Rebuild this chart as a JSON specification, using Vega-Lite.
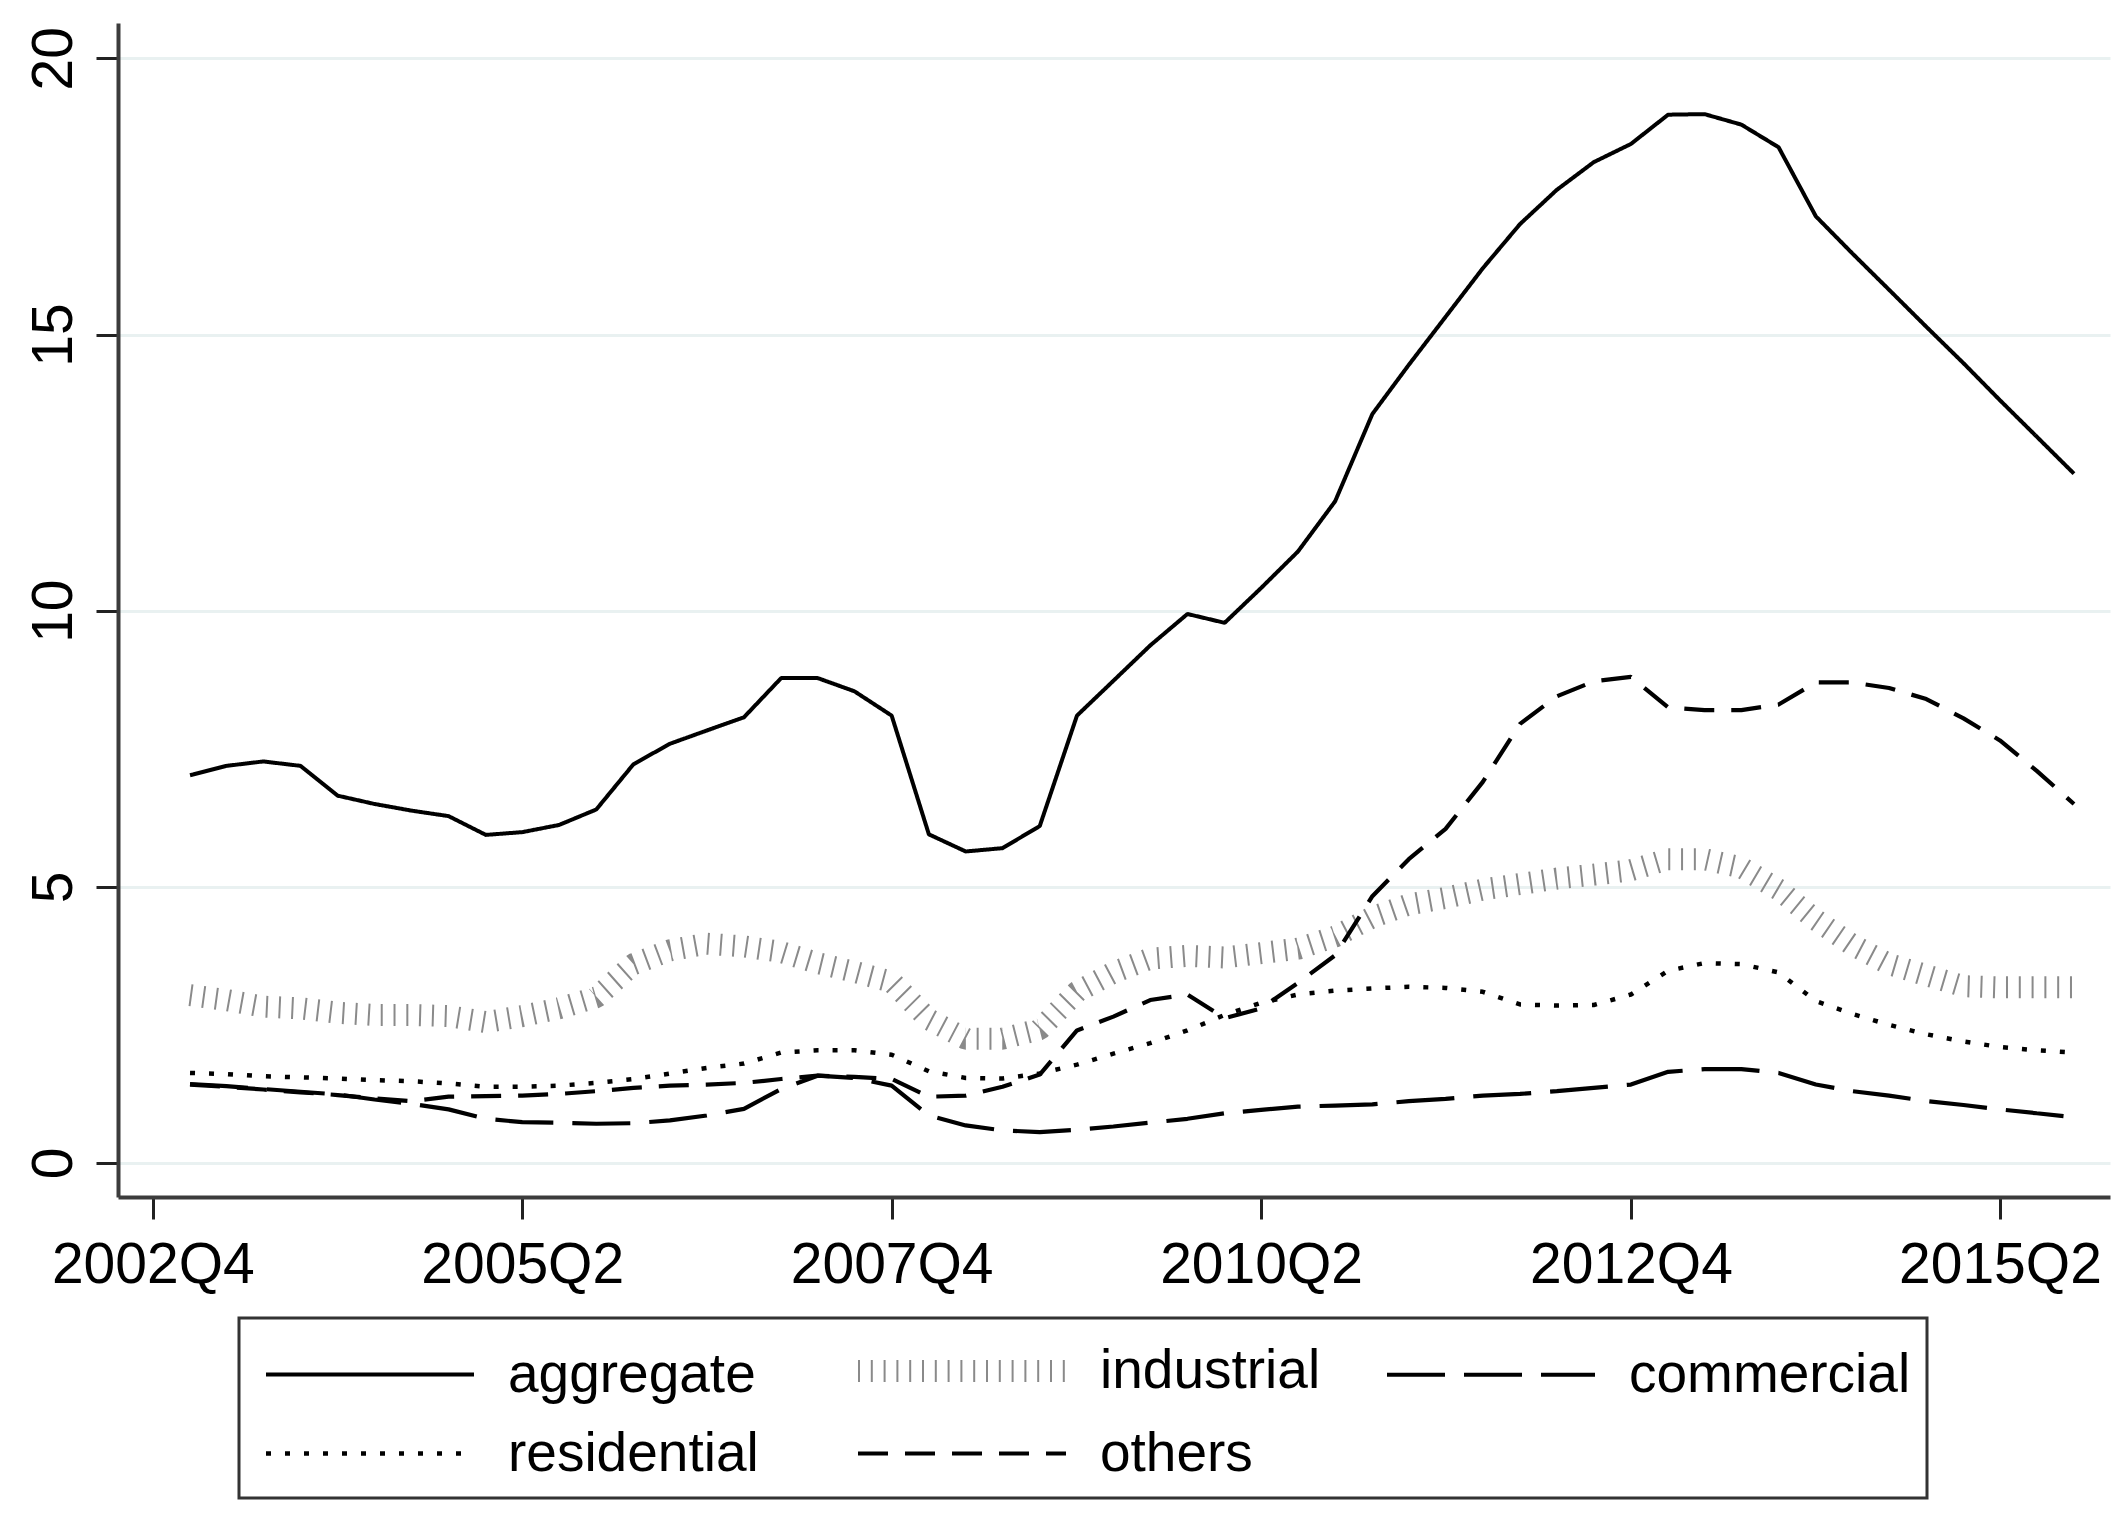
{
"$schema": "https://vega.github.io/schema/vega-lite/v6.json",
"width": 1992, "height": 1174,
"autosize": {"type": "none"},
"padding": {"left": 118, "top": 23, "right": 13, "bottom": 316},
"background": "white",
"config": {"view": {"stroke": null}, "font": "Liberation Sans"},
"data": {"values": [
{"date":"2003-01-01","series":"aggregate","value":7.02},{"date":"2003-04-01","series":"aggregate","value":7.19},{"date":"2003-07-01","series":"aggregate","value":7.27},{"date":"2003-10-01","series":"aggregate","value":7.19},
{"date":"2004-01-01","series":"aggregate","value":6.65},{"date":"2004-04-01","series":"aggregate","value":6.5},{"date":"2004-07-01","series":"aggregate","value":6.38},{"date":"2004-10-01","series":"aggregate","value":6.28},
{"date":"2005-01-01","series":"aggregate","value":5.94},{"date":"2005-04-01","series":"aggregate","value":5.99},{"date":"2005-07-01","series":"aggregate","value":6.12},{"date":"2005-10-01","series":"aggregate","value":6.4},
{"date":"2006-01-01","series":"aggregate","value":7.22},{"date":"2006-04-01","series":"aggregate","value":7.59},{"date":"2006-07-01","series":"aggregate","value":7.83},{"date":"2006-10-01","series":"aggregate","value":8.07},
{"date":"2007-01-01","series":"aggregate","value":8.78},{"date":"2007-04-01","series":"aggregate","value":8.78},{"date":"2007-07-01","series":"aggregate","value":8.54},{"date":"2007-10-01","series":"aggregate","value":8.1},
{"date":"2008-01-01","series":"aggregate","value":5.95},{"date":"2008-04-01","series":"aggregate","value":5.64},{"date":"2008-07-01","series":"aggregate","value":5.7},{"date":"2008-10-01","series":"aggregate","value":6.1},
{"date":"2009-01-01","series":"aggregate","value":8.1},{"date":"2009-04-01","series":"aggregate","value":8.73},{"date":"2009-07-01","series":"aggregate","value":9.37},{"date":"2009-10-01","series":"aggregate","value":9.94},
{"date":"2010-01-01","series":"aggregate","value":9.78},{"date":"2010-04-01","series":"aggregate","value":10.41},{"date":"2010-07-01","series":"aggregate","value":11.07},{"date":"2010-10-01","series":"aggregate","value":11.98},
{"date":"2011-01-01","series":"aggregate","value":13.56},{"date":"2011-04-01","series":"aggregate","value":14.45},{"date":"2011-07-01","series":"aggregate","value":15.32},{"date":"2011-10-01","series":"aggregate","value":16.2},
{"date":"2012-01-01","series":"aggregate","value":17.0},{"date":"2012-04-01","series":"aggregate","value":17.62},{"date":"2012-07-01","series":"aggregate","value":18.12},{"date":"2012-10-01","series":"aggregate","value":18.45},
{"date":"2013-01-01","series":"aggregate","value":18.98},{"date":"2013-04-01","series":"aggregate","value":18.99},{"date":"2013-07-01","series":"aggregate","value":18.8},{"date":"2013-10-01","series":"aggregate","value":18.39},
{"date":"2014-01-01","series":"aggregate","value":17.14},{"date":"2014-04-01","series":"aggregate","value":16.47},{"date":"2014-07-01","series":"aggregate","value":15.81},{"date":"2014-10-01","series":"aggregate","value":15.14},
{"date":"2015-01-01","series":"aggregate","value":14.48},{"date":"2015-04-01","series":"aggregate","value":13.81},{"date":"2015-07-01","series":"aggregate","value":13.15},{"date":"2015-10-01","series":"aggregate","value":12.48},

{"date":"2003-01-01","series":"industrial","value":3.04},{"date":"2003-04-01","series":"industrial","value":2.95},{"date":"2003-07-01","series":"industrial","value":2.83},{"date":"2003-10-01","series":"industrial","value":2.8},
{"date":"2004-01-01","series":"industrial","value":2.72},{"date":"2004-04-01","series":"industrial","value":2.68},{"date":"2004-07-01","series":"industrial","value":2.68},{"date":"2004-10-01","series":"industrial","value":2.66},
{"date":"2005-01-01","series":"industrial","value":2.55},{"date":"2005-04-01","series":"industrial","value":2.66},{"date":"2005-07-01","series":"industrial","value":2.8},{"date":"2005-10-01","series":"industrial","value":3.0},
{"date":"2006-01-01","series":"industrial","value":3.6},{"date":"2006-04-01","series":"industrial","value":3.85},{"date":"2006-07-01","series":"industrial","value":3.97},{"date":"2006-10-01","series":"industrial","value":3.92},
{"date":"2007-01-01","series":"industrial","value":3.82},{"date":"2007-04-01","series":"industrial","value":3.62},{"date":"2007-07-01","series":"industrial","value":3.46},{"date":"2007-10-01","series":"industrial","value":3.28},
{"date":"2008-01-01","series":"industrial","value":2.6},{"date":"2008-04-01","series":"industrial","value":2.25},{"date":"2008-07-01","series":"industrial","value":2.25},{"date":"2008-10-01","series":"industrial","value":2.42},
{"date":"2009-01-01","series":"industrial","value":3.1},{"date":"2009-04-01","series":"industrial","value":3.45},{"date":"2009-07-01","series":"industrial","value":3.7},{"date":"2009-10-01","series":"industrial","value":3.75},
{"date":"2010-01-01","series":"industrial","value":3.72},{"date":"2010-04-01","series":"industrial","value":3.8},{"date":"2010-07-01","series":"industrial","value":3.88},{"date":"2010-10-01","series":"industrial","value":4.1},
{"date":"2011-01-01","series":"industrial","value":4.45},{"date":"2011-04-01","series":"industrial","value":4.68},{"date":"2011-07-01","series":"industrial","value":4.8},{"date":"2011-10-01","series":"industrial","value":4.95},
{"date":"2012-01-01","series":"industrial","value":5.05},{"date":"2012-04-01","series":"industrial","value":5.15},{"date":"2012-07-01","series":"industrial","value":5.22},{"date":"2012-10-01","series":"industrial","value":5.3},
{"date":"2013-01-01","series":"industrial","value":5.5},{"date":"2013-04-01","series":"industrial","value":5.5},{"date":"2013-07-01","series":"industrial","value":5.35},{"date":"2013-10-01","series":"industrial","value":4.95},
{"date":"2014-01-01","series":"industrial","value":4.4},{"date":"2014-04-01","series":"industrial","value":3.95},{"date":"2014-07-01","series":"industrial","value":3.6},{"date":"2014-10-01","series":"industrial","value":3.4},
{"date":"2015-01-01","series":"industrial","value":3.2},{"date":"2015-04-01","series":"industrial","value":3.18},{"date":"2015-07-01","series":"industrial","value":3.18},{"date":"2015-10-01","series":"industrial","value":3.18},

{"date":"2003-01-01","series":"commercial","value":1.43},{"date":"2003-04-01","series":"commercial","value":1.39},{"date":"2003-07-01","series":"commercial","value":1.34},{"date":"2003-10-01","series":"commercial","value":1.29},
{"date":"2004-01-01","series":"commercial","value":1.24},{"date":"2004-04-01","series":"commercial","value":1.15},{"date":"2004-07-01","series":"commercial","value":1.07},{"date":"2004-10-01","series":"commercial","value":0.97},
{"date":"2005-01-01","series":"commercial","value":0.8},{"date":"2005-04-01","series":"commercial","value":0.74},{"date":"2005-07-01","series":"commercial","value":0.73},{"date":"2005-10-01","series":"commercial","value":0.71},
{"date":"2006-01-01","series":"commercial","value":0.72},{"date":"2006-04-01","series":"commercial","value":0.77},{"date":"2006-07-01","series":"commercial","value":0.86},{"date":"2006-10-01","series":"commercial","value":0.98},
{"date":"2007-01-01","series":"commercial","value":1.34},{"date":"2007-04-01","series":"commercial","value":1.58},{"date":"2007-07-01","series":"commercial","value":1.54},{"date":"2007-10-01","series":"commercial","value":1.4},
{"date":"2008-01-01","series":"commercial","value":0.86},{"date":"2008-04-01","series":"commercial","value":0.68},{"date":"2008-07-01","series":"commercial","value":0.59},{"date":"2008-10-01","series":"commercial","value":0.56},
{"date":"2009-01-01","series":"commercial","value":0.6},{"date":"2009-04-01","series":"commercial","value":0.66},{"date":"2009-07-01","series":"commercial","value":0.73},{"date":"2009-10-01","series":"commercial","value":0.8},
{"date":"2010-01-01","series":"commercial","value":0.9},{"date":"2010-04-01","series":"commercial","value":0.96},{"date":"2010-07-01","series":"commercial","value":1.02},{"date":"2010-10-01","series":"commercial","value":1.04},
{"date":"2011-01-01","series":"commercial","value":1.06},{"date":"2011-04-01","series":"commercial","value":1.12},{"date":"2011-07-01","series":"commercial","value":1.16},{"date":"2011-10-01","series":"commercial","value":1.22},
{"date":"2012-01-01","series":"commercial","value":1.25},{"date":"2012-04-01","series":"commercial","value":1.3},{"date":"2012-07-01","series":"commercial","value":1.36},{"date":"2012-10-01","series":"commercial","value":1.42},
{"date":"2013-01-01","series":"commercial","value":1.65},{"date":"2013-04-01","series":"commercial","value":1.7},{"date":"2013-07-01","series":"commercial","value":1.7},{"date":"2013-10-01","series":"commercial","value":1.63},
{"date":"2014-01-01","series":"commercial","value":1.42},{"date":"2014-04-01","series":"commercial","value":1.3},{"date":"2014-07-01","series":"commercial","value":1.22},{"date":"2014-10-01","series":"commercial","value":1.12},
{"date":"2015-01-01","series":"commercial","value":1.05},{"date":"2015-04-01","series":"commercial","value":0.97},{"date":"2015-07-01","series":"commercial","value":0.9},{"date":"2015-10-01","series":"commercial","value":0.83},

{"date":"2003-01-01","series":"residential","value":1.63},{"date":"2003-04-01","series":"residential","value":1.61},{"date":"2003-07-01","series":"residential","value":1.57},{"date":"2003-10-01","series":"residential","value":1.55},
{"date":"2004-01-01","series":"residential","value":1.53},{"date":"2004-04-01","series":"residential","value":1.5},{"date":"2004-07-01","series":"residential","value":1.48},{"date":"2004-10-01","series":"residential","value":1.44},
{"date":"2005-01-01","series":"residential","value":1.38},{"date":"2005-04-01","series":"residential","value":1.38},{"date":"2005-07-01","series":"residential","value":1.4},{"date":"2005-10-01","series":"residential","value":1.45},
{"date":"2006-01-01","series":"residential","value":1.52},{"date":"2006-04-01","series":"residential","value":1.62},{"date":"2006-07-01","series":"residential","value":1.72},{"date":"2006-10-01","series":"residential","value":1.8},
{"date":"2007-01-01","series":"residential","value":2.0},{"date":"2007-04-01","series":"residential","value":2.04},{"date":"2007-07-01","series":"residential","value":2.04},{"date":"2007-10-01","series":"residential","value":1.96},
{"date":"2008-01-01","series":"residential","value":1.66},{"date":"2008-04-01","series":"residential","value":1.54},{"date":"2008-07-01","series":"residential","value":1.53},{"date":"2008-10-01","series":"residential","value":1.62},
{"date":"2009-01-01","series":"residential","value":1.78},{"date":"2009-04-01","series":"residential","value":1.98},{"date":"2009-07-01","series":"residential","value":2.17},{"date":"2009-10-01","series":"residential","value":2.4},
{"date":"2010-01-01","series":"residential","value":2.68},{"date":"2010-04-01","series":"residential","value":2.9},{"date":"2010-07-01","series":"residential","value":3.05},{"date":"2010-10-01","series":"residential","value":3.12},
{"date":"2011-01-01","series":"residential","value":3.16},{"date":"2011-04-01","series":"residential","value":3.19},{"date":"2011-07-01","series":"residential","value":3.17},{"date":"2011-10-01","series":"residential","value":3.1},
{"date":"2012-01-01","series":"residential","value":2.87},{"date":"2012-04-01","series":"residential","value":2.85},{"date":"2012-07-01","series":"residential","value":2.86},{"date":"2012-10-01","series":"residential","value":3.05},
{"date":"2013-01-01","series":"residential","value":3.48},{"date":"2013-04-01","series":"residential","value":3.62},{"date":"2013-07-01","series":"residential","value":3.6},{"date":"2013-10-01","series":"residential","value":3.45},
{"date":"2014-01-01","series":"residential","value":2.93},{"date":"2014-04-01","series":"residential","value":2.7},{"date":"2014-07-01","series":"residential","value":2.5},{"date":"2014-10-01","series":"residential","value":2.33},
{"date":"2015-01-01","series":"residential","value":2.2},{"date":"2015-04-01","series":"residential","value":2.1},{"date":"2015-07-01","series":"residential","value":2.04},{"date":"2015-10-01","series":"residential","value":2.0},

{"date":"2003-01-01","series":"others","value":1.42},{"date":"2003-04-01","series":"others","value":1.38},{"date":"2003-07-01","series":"others","value":1.33},{"date":"2003-10-01","series":"others","value":1.28},
{"date":"2004-01-01","series":"others","value":1.23},{"date":"2004-04-01","series":"others","value":1.17},{"date":"2004-07-01","series":"others","value":1.12},{"date":"2004-10-01","series":"others","value":1.2},
{"date":"2005-01-01","series":"others","value":1.21},{"date":"2005-04-01","series":"others","value":1.22},{"date":"2005-07-01","series":"others","value":1.25},{"date":"2005-10-01","series":"others","value":1.3},
{"date":"2006-01-01","series":"others","value":1.36},{"date":"2006-04-01","series":"others","value":1.4},{"date":"2006-07-01","series":"others","value":1.42},{"date":"2006-10-01","series":"others","value":1.45},
{"date":"2007-01-01","series":"others","value":1.52},{"date":"2007-04-01","series":"others","value":1.58},{"date":"2007-07-01","series":"others","value":1.56},{"date":"2007-10-01","series":"others","value":1.52},
{"date":"2008-01-01","series":"others","value":1.2},{"date":"2008-04-01","series":"others","value":1.22},{"date":"2008-07-01","series":"others","value":1.38},{"date":"2008-10-01","series":"others","value":1.6},
{"date":"2009-01-01","series":"others","value":2.4},{"date":"2009-04-01","series":"others","value":2.65},{"date":"2009-07-01","series":"others","value":2.95},{"date":"2009-10-01","series":"others","value":3.05},
{"date":"2010-01-01","series":"others","value":2.62},{"date":"2010-04-01","series":"others","value":2.8},{"date":"2010-07-01","series":"others","value":3.26},{"date":"2010-10-01","series":"others","value":3.76},
{"date":"2011-01-01","series":"others","value":4.83},{"date":"2011-04-01","series":"others","value":5.5},{"date":"2011-07-01","series":"others","value":6.05},{"date":"2011-10-01","series":"others","value":6.9},
{"date":"2012-01-01","series":"others","value":7.95},{"date":"2012-04-01","series":"others","value":8.45},{"date":"2012-07-01","series":"others","value":8.72},{"date":"2012-10-01","series":"others","value":8.8},
{"date":"2013-01-01","series":"others","value":8.25},{"date":"2013-04-01","series":"others","value":8.2},{"date":"2013-07-01","series":"others","value":8.2},{"date":"2013-10-01","series":"others","value":8.3},
{"date":"2014-01-01","series":"others","value":8.7},{"date":"2014-04-01","series":"others","value":8.7},{"date":"2014-07-01","series":"others","value":8.6},{"date":"2014-10-01","series":"others","value":8.4},
{"date":"2015-01-01","series":"others","value":8.05},{"date":"2015-04-01","series":"others","value":7.65},{"date":"2015-07-01","series":"others","value":7.1},{"date":"2015-10-01","series":"others","value":6.5}
]},
"mark": {"type": "line", "strokeCap": "butt", "strokeJoin": "bevel"},
"encoding": {
  "x": {"field": "date", "type": "temporal",
    "scale": {"type": "utc", "domain": [{"year": 2002, "month": 7, "date": 7, "utc": true}, {"year": 2015, "month": 12, "date": 29, "utc": true}]},
    "axis": {"title": null, "grid": false,
      "values": [{"year": 2002, "month": 10, "date": 1, "utc": true}, {"year": 2005, "month": 4, "date": 1, "utc": true}, {"year": 2007, "month": 10, "date": 1, "utc": true}, {"year": 2010, "month": 4, "date": 1, "utc": true}, {"year": 2012, "month": 10, "date": 1, "utc": true}, {"year": 2015, "month": 4, "date": 1, "utc": true}],
      "labelExpr": "utcyear(datum.value) + 'Q' + (floor(utcmonth(datum.value) / 3) + 1)",
      "labelFont": "Liberation Sans", "labelFontSize": 57, "labelColor": "#000000", "labelPadding": 18, "labelLimit": 1000,
      "labelOverlap": false, "labelFlush": false, "labelAlign": "center", "labelBaseline": "top",
      "domainColor": "#3c3c3c", "domainWidth": 4, "tickColor": "#222222", "tickWidth": 3, "tickSize": 22}},
  "y": {"field": "value", "type": "quantitative",
    "scale": {"domain": [-0.616, 20.64], "nice": false, "zero": false},
    "axis": {"title": null, "values": [0, 5, 10, 15, 20], "grid": true, "gridColor": "#e9f1f1", "gridWidth": 3,
      "labelAngle": -90, "labelAlign": "center", "labelBaseline": "alphabetic", "labelPadding": 25, "labelLimit": 1000,
      "labelFont": "Liberation Sans", "labelFontSize": 57, "labelColor": "#000000",
      "domainColor": "#3c3c3c", "domainWidth": 4, "tickColor": "#222222", "tickWidth": 3, "tickSize": 22}},
  "color": {"field": "series", "type": "nominal",
    "scale": {"domain": ["aggregate", "industrial", "commercial", "residential", "others"], "range": ["#000000", "#8a8a8a", "#000000", "#000000", "#000000"]},
    "legend": {"orient": "none", "legendX": 121, "legendY": 1295, "direction": "horizontal", "columns": 3, "title": null,
      "symbolType": "M-1,0H7", "symbolSize": 2704, "labelFont": "Liberation Sans", "labelFontSize": 55, "labelColor": "#000000",
      "labelOffset": 179, "labelLimit": 1000, "columnPadding": 55, "rowPadding": 10, "padding": 16, "strokeColor": "#333333",
      "encode": {"legend": {"update": {"strokeWidth": {"value": 3}}}}}},
  "strokeDash": {"field": "series", "type": "nominal",
    "scale": {"domain": ["aggregate", "industrial", "commercial", "residential", "others"], "range": [[1, 0], [2, 10.8], [58, 19], [5, 14], [30, 17]]}},
  "strokeWidth": {"field": "series", "type": "nominal",
    "scale": {"type": "ordinal", "domain": ["aggregate", "industrial", "commercial", "residential", "others"], "range": [4, 22, 4.2, 4.5, 4.2]}}
}
}
